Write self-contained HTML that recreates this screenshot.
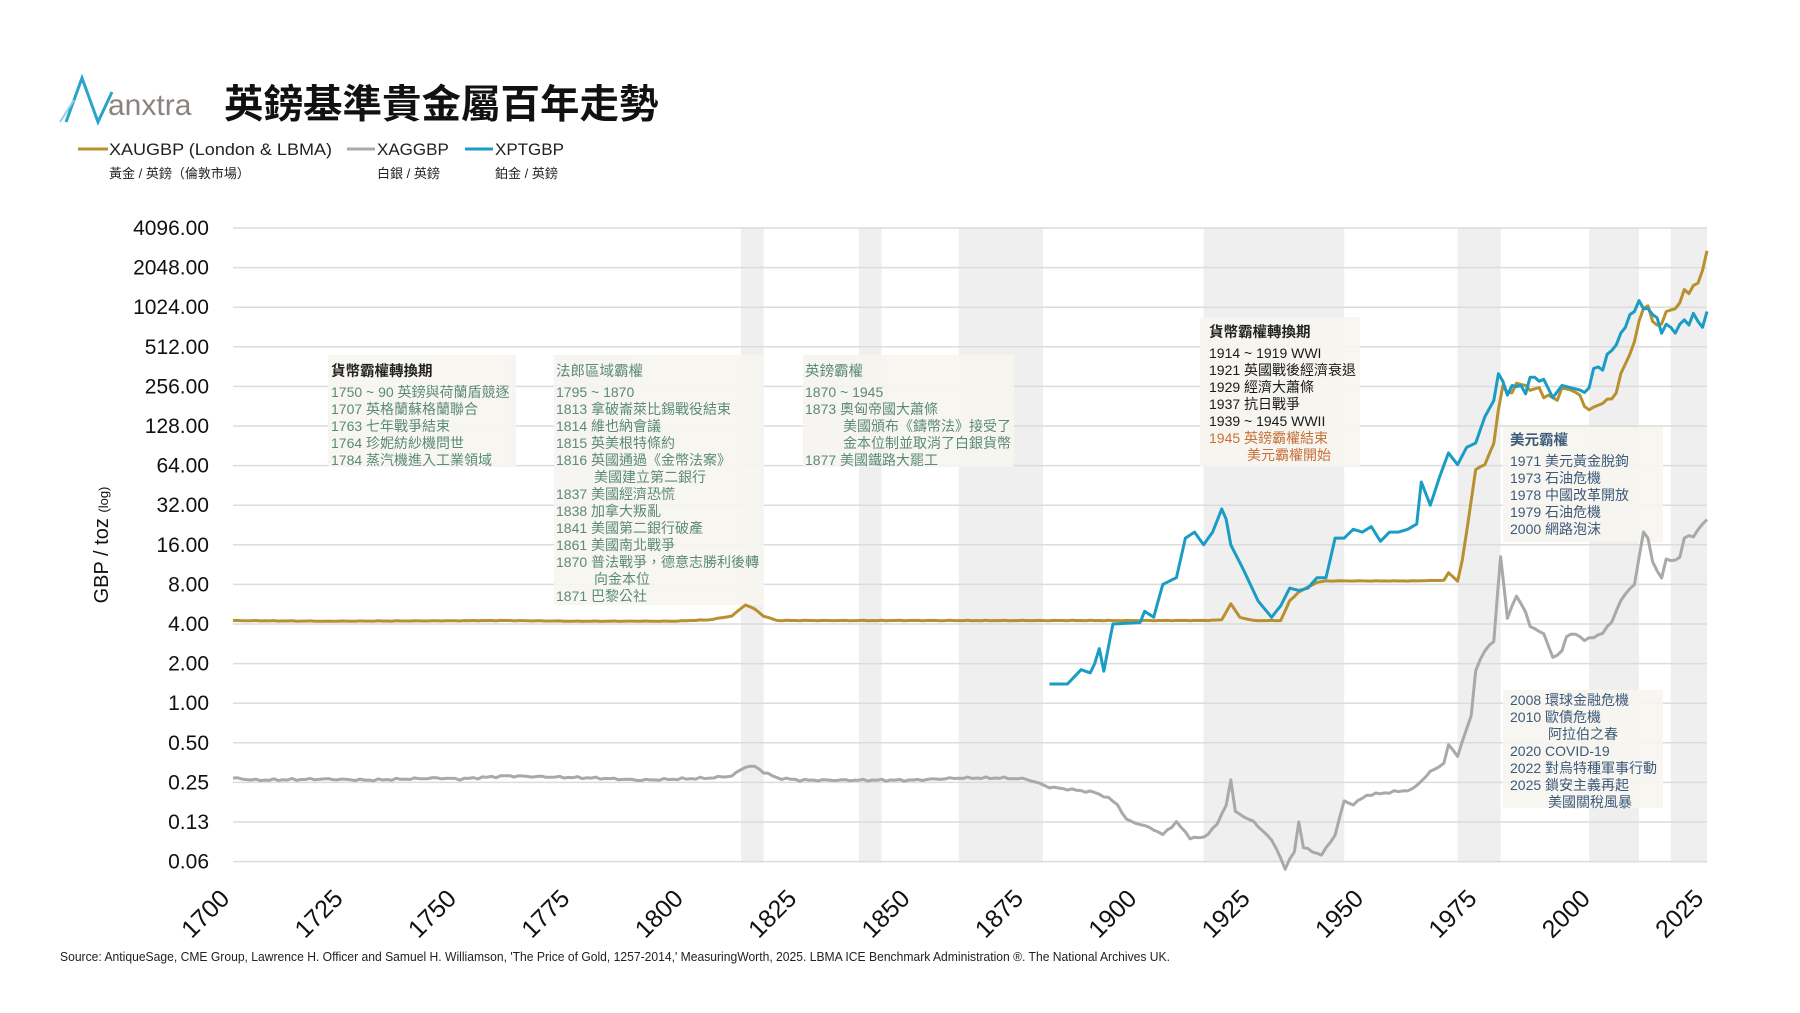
<!DOCTYPE html>
<html><head><meta charset="utf-8"><style>
body{margin:0;background:#fff}
svg{display:block}
text{font-family:"Liberation Sans","Noto Sans CJK TC",sans-serif}
.ann{font-size:14px;fill:#5a8a78}
.hd{font-size:14.5px;font-weight:bold;fill:#222}
</style></head><body>
<svg id="s" width="1800" height="1013" viewBox="0 0 1800 1013" xmlns="http://www.w3.org/2000/svg">
<rect width="1800" height="1013" fill="#fff"/>
<g id="bands" fill="#efefef"></g>
<g id="grid" stroke="#dcdcdc" stroke-width="1.5"></g>
<g fill="#f7f5f0" opacity="0.9">
<rect x="328" y="355" width="188" height="112"/>
<rect x="554" y="355" width="210" height="250"/>
<rect x="803" y="355" width="211" height="112"/>
<rect x="1200" y="317" width="160" height="150"/>
<rect x="1503" y="427" width="160" height="115"/>
<rect x="1503" y="690" width="160" height="118"/>
</g>
<g id="series" fill="none" stroke-width="3" stroke-linejoin="round"></g>
<!-- logo -->
<g>
<path d="M66 122 L82 78 L98 122 L112 92" fill="none" stroke="#2aa3c9" stroke-width="3"/>
<path d="M60 122 L74 100" fill="none" stroke="#8fd0e6" stroke-width="2"/>
<text x="108" y="115" font-family="Liberation Serif,serif" font-size="30" fill="#8a8480">anxtra</text>
</g>
<text x="224" y="118" font-size="39.5" font-weight="bold" fill="#111">英鎊基準貴金屬百年走勢</text>
<!-- legend -->
<line x1="78" y1="149" x2="108" y2="149" stroke="#b8902f" stroke-width="3"/>
<text x="109" y="155" font-size="17" fill="#222" textLength="223" lengthAdjust="spacingAndGlyphs">XAUGBP (London &amp; LBMA)</text>
<text x="109" y="178" font-size="13" fill="#222">黃金 / 英鎊（倫敦市場）</text>
<line x1="347" y1="149" x2="375" y2="149" stroke="#aaa" stroke-width="3"/>
<text x="377" y="155" font-size="17" fill="#222">XAGGBP</text>
<text x="377" y="178" font-size="13" fill="#222">白銀 / 英鎊</text>
<line x1="465" y1="149" x2="493" y2="149" stroke="#1a9cc4" stroke-width="3"/>
<text x="495" y="155" font-size="17" fill="#222">XPTGBP</text>
<text x="495" y="178" font-size="13" fill="#222">鉑金 / 英鎊</text>
<g id="ylab" font-size="21" fill="#111" text-anchor="end"></g>
<g id="xlab" font-size="25" fill="#111" text-anchor="end"></g>
<text transform="translate(108,545) rotate(-90)" text-anchor="middle" font-size="20" fill="#111">GBP / toz <tspan font-size="13">(log)</tspan></text>
<!-- annotations -->
<text class="hd" x="331" y="376">貨幣霸權轉換期</text>
<g class="ann"><text x="331" y="397">1750 ~ 90 英鎊與荷蘭盾競逐</text><text x="331" y="414">1707 英格蘭蘇格蘭聯合</text><text x="331" y="431">1763 七年戰爭結束</text><text x="331" y="448">1764 珍妮紡紗機問世</text><text x="331" y="465">1784 蒸汽機進入工業領域</text></g>
<g class="ann"><text x="556" y="376" font-size="14.5">法郎區域霸權</text><text x="556" y="397">1795 ~ 1870</text><text x="556" y="414">1813 拿破崙萊比錫戰役結束</text><text x="556" y="431">1814 維也納會議</text><text x="556" y="448">1815 英美根特條約</text><text x="556" y="465">1816 英國通過《金幣法案》</text><text x="594" y="482">美國建立第二銀行</text><text x="556" y="499">1837 美國經濟恐慌</text><text x="556" y="516">1838 加拿大叛亂</text><text x="556" y="533">1841 美國第二銀行破產</text><text x="556" y="550">1861 美國南北戰爭</text><text x="556" y="567">1870 普法戰爭，德意志勝利後轉</text><text x="594" y="584">向金本位</text><text x="556" y="601">1871 巴黎公社</text></g>
<g class="ann"><text x="805" y="376" font-size="14.5">英鎊霸權</text><text x="805" y="397">1870 ~ 1945</text><text x="805" y="414">1873 奧匈帝國大蕭條</text><text x="843" y="431">美國頒布《鑄幣法》接受了</text><text x="843" y="448">金本位制並取消了白銀貨幣</text><text x="805" y="465">1877 美國鐵路大罷工</text></g>
<g font-size="14" fill="#1a1a1a"><text x="1209" y="337" class="hd">貨幣霸權轉換期</text><text x="1209" y="358">1914 ~ 1919 WWI</text><text x="1209" y="375">1921 英國戰後經濟衰退</text><text x="1209" y="392">1929 經濟大蕭條</text><text x="1209" y="409">1937 抗日戰爭</text><text x="1209" y="426">1939 ~ 1945 WWII</text><text x="1209" y="443" fill="#c8703a">1945 英鎊霸權結束</text><text x="1247" y="460" fill="#c8703a">美元霸權開始</text></g>
<g font-size="14" fill="#3d5a7a"><text x="1510" y="445" font-weight="bold" font-size="14.5">美元霸權</text><text x="1510" y="466">1971 美元黃金脫鉤</text><text x="1510" y="483">1973 石油危機</text><text x="1510" y="500">1978 中國改革開放</text><text x="1510" y="517">1979 石油危機</text><text x="1510" y="534">2000 網路泡沫</text>
<text x="1510" y="705">2008 環球金融危機</text><text x="1510" y="722">2010 歐債危機</text><text x="1548" y="739">阿拉伯之春</text><text x="1510" y="756">2020 COVID-19</text><text x="1510" y="773">2022 對烏特種軍事行動</text><text x="1510" y="790">2025 鎖安主義再起</text><text x="1548" y="807">美國關稅風暴</text></g>
<text x="60" y="961" font-size="12.5" fill="#222" textLength="1110" lengthAdjust="spacingAndGlyphs">Source: AntiqueSage, CME Group, Lawrence H. Officer and Samuel H. Williamson, 'The Price of Gold, 1257-2014,' MeasuringWorth, 2025. LBMA ICE Benchmark Administration ®. The National Archives UK.</text>
</svg>
<script>
const NS="http://www.w3.org/2000/svg";
const X=y=>233+(y-1700)*(1707-233)/325;
const TOP=228,STEP=39.6;
const Y=v=>TOP+(12-Math.log2(v))*STEP;
function el(t,a,p,txt){const e=document.createElementNS(NS,t);for(const k in a)e.setAttribute(k,a[k]);if(txt)e.textContent=txt;document.getElementById(p).appendChild(e);}
[[1812,1817],[1838,1843],[1860,1878.6],[1914,1945],[1970,1979.5],[1999,2010],[2017,2025]].forEach(b=>el('rect',{x:X(b[0]),y:TOP,width:X(b[1])-X(b[0]),height:Y(1/16)-TOP+1},'bands'));
const labs=["4096.00","2048.00","1024.00","512.00","256.00","128.00","64.00","32.00","16.00","8.00","4.00","2.00","1.00","0.50","0.25","0.13","0.06"];
labs.forEach((l,i)=>{const y=TOP+i*STEP;el('line',{x1:233,x2:1707,y1:y,y2:y},'grid');el('text',{x:209,y:y+7},'ylab',l);});
for(let yr=1700;yr<=2025;yr+=25){const x=X(yr)-2,y=900;el('text',{x:x,y:y,transform:`rotate(-45 ${x} ${y})`},'xlab',String(yr));}
function interp(k){const o=[];for(let i=0;i<k.length-1;i++){const[a,va]=k[i],[b,vb]=k[i+1];const n=Math.max(1,Math.round((b-a)));for(let j=0;j<n;j++){const t=j/n;o.push([a+(b-a)*t,Math.exp(Math.log(va)+(Math.log(vb)-Math.log(va))*t)]);}}o.push(k[k.length-1]);return o;}
function draw(k,c,wig){const pts=interp(k).map(([x,v],i)=>{let w=wig?1+wig*Math.sin(i*2.3)*Math.cos(i*0.7):1;return X(x).toFixed(1)+","+Y(v*w).toFixed(1)});el('polyline',{points:pts.join(" "),stroke:c},'series');}
const silver=[[1700,0.27],[1705,0.26],[1720,0.265],[1730,0.26],[1745,0.27],[1750,0.265],[1760,0.28],[1770,0.275],[1780,0.27],[1790,0.26],[1805,0.27],[1810,0.28],[1813,0.33],[1815,0.33],[1817,0.3],[1820,0.27],[1825,0.26],[1840,0.26],[1850,0.26],[1860,0.27],[1870,0.27],[1875,0.265],[1880,0.23],[1885,0.22],[1890,0.21],[1893,0.19],[1895,0.17],[1897,0.13],[1900,0.12],[1903,0.11],[1905,0.1],[1908,0.125],[1911,0.095],[1914,0.095],[1917,0.12],[1919,0.17],[1920,0.26],[1921,0.15],[1925,0.125],[1928,0.1],[1930,0.08],[1932,0.055],[1934,0.075],[1935,0.125],[1936,0.08],[1940,0.07],[1943,0.1],[1945,0.18],[1947,0.17],[1950,0.2],[1955,0.21],[1960,0.22],[1964,0.3],[1967,0.35],[1968,0.48],[1970,0.4],[1973,0.8],[1974,1.8],[1976,2.5],[1978,3],[1979.5,13],[1981,4.5],[1983,6.5],[1985,5],[1986,3.8],[1989,3.4],[1991,2.2],[1993,2.5],[1994,3.2],[1996,3.4],[1998,3.0],[2000,3.2],[2002,3.4],[2004,4.2],[2006,6],[2008,7.5],[2009,8],[2011,20],[2012,18],[2013,12],[2014,10],[2015,9],[2016,12.5],[2018,12],[2019,13],[2020,18],[2021,19],[2022,18],[2023,21],[2024,23],[2025,25]];
const gold=[[1700,4.25],[1720,4.2],[1740,4.22],[1760,4.25],[1775,4.2],[1797,4.2],[1805,4.3],[1810,4.6],[1813,5.6],[1815,5.2],[1817,4.6],[1820,4.25],[1840,4.25],[1860,4.25],[1880,4.25],[1914,4.25],[1918,4.3],[1920,5.7],[1922,4.5],[1925,4.25],[1931,4.25],[1933,6],[1935,7],[1939,8.3],[1941,8.5],[1950,8.5],[1960,8.5],[1967,8.6],[1968,9.8],[1970,8.5],[1971,12],[1972,20],[1974,60],[1976,65],[1978,95],[1979,170],[1980,260],[1981,230],[1982,230],[1983,270],[1985,260],[1986,240],[1988,250],[1989,210],[1990,220],[1992,200],[1993,250],[1995,240],[1997,220],[1998,180],[1999,170],[2001,185],[2002,190],[2003,205],[2004,205],[2005,230],[2006,320],[2008,450],[2009,560],[2010,800],[2011,1000],[2012,1050],[2013,800],[2014,750],[2015,760],[2016,950],[2018,1000],[2019,1100],[2020,1400],[2021,1300],[2022,1500],[2023,1550],[2024,1950],[2025,2750]];
const plat=[[1880,1.4],[1884,1.4],[1887,1.8],[1889,1.7],[1890,2],[1891,2.6],[1892,1.75],[1894,4],[1900,4.1],[1901,5],[1903,4.5],[1905,8],[1908,9],[1910,18],[1912,20],[1914,16],[1916,20],[1918,30],[1919,25],[1920,16],[1923,10],[1926,6],[1929,4.5],[1931,5.5],[1933,7.5],[1935,7.2],[1937,7.5],[1939,9],[1941,9],[1943,18],[1945,18],[1947,21],[1949,20],[1951,22],[1953,17],[1955,20],[1957,20],[1959,21],[1961,23],[1962,48],[1964,32],[1966,52],[1968,80],[1970,65],[1972,88],[1974,95],[1976,150],[1978,200],[1979,320],[1980,280],[1981,220],[1982,260],[1983,255],[1984,260],[1985,225],[1986,300],[1987,300],[1988,280],[1989,290],[1991,210],[1993,260],[1995,250],[1997,240],[1998,230],[1999,250],[2000,350],[2001,360],[2002,340],[2003,450],[2004,480],[2005,530],[2006,650],[2007,720],[2008,900],[2009,950],[2010,1150],[2011,1000],[2012,1000],[2013,900],[2014,850],[2015,650],[2016,760],[2017,720],[2018,650],[2019,760],[2020,820],[2021,750],[2022,920],[2023,800],[2024,720],[2025,950]];
draw(silver,"#a9a9a9",0.02);draw(gold,"#b8902f",0.005);draw(plat,"#1a9cc4",0);
</script>
</body></html>
